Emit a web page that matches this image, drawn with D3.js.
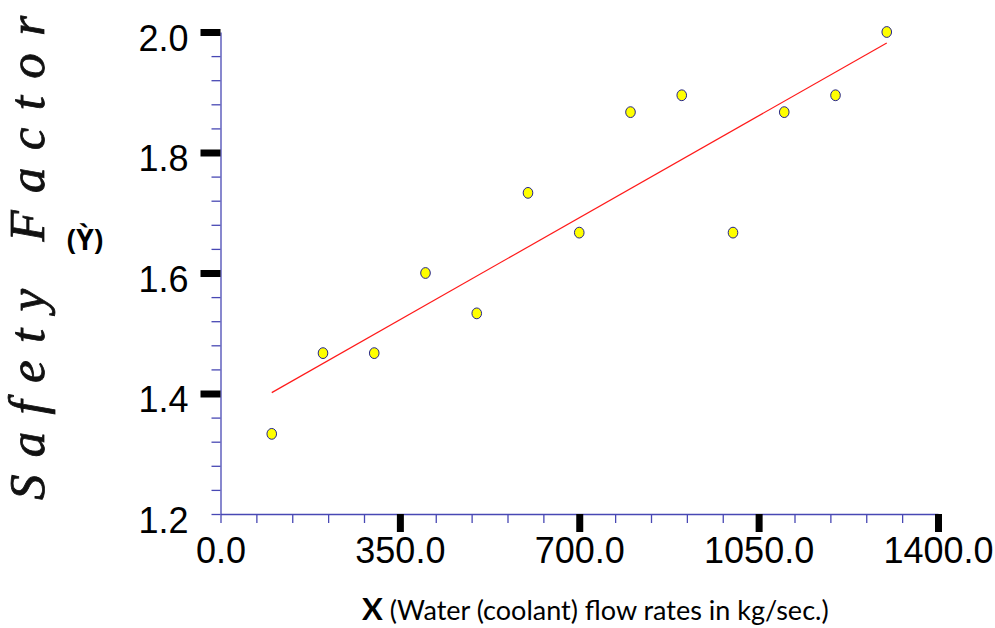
<!DOCTYPE html>
<html>
<head>
<meta charset="utf-8">
<script src="https://cdn.jsdelivr.net/npm/d3@7"></script>
<style>
  body { margin: 0; background: #fff; }
  svg { display: block; }
</style>
</head>
<body>
<div id="chart"></div>
<script>
// flow rate (kg/sec) vs safety factor, with least squares line
const flowRates = [100, 200, 300, 400, 500, 600, 700, 800, 900, 1000, 1100, 1200, 1300];
const safetyFactors = [1.333, 1.467, 1.467, 1.6, 1.533, 1.733, 1.667, 1.867, 1.895, 1.667, 1.867, 1.895, 2.0];
const xMajorTicks = [0, 350, 700, 1050, 1400];
const yMajorTicks = [1.2, 1.4, 1.6, 1.8, 2.0];

const width = 995;
const height = 628;
const axisBlue = "#4848b4";

const svg = d3.select("#chart").append("svg")
  .attr("width", width)
  .attr("height", height);

const x = d3.scaleLinear().domain([0, 1400]).range([220.5, 938]);
const y = d3.scaleLinear().domain([1.2, 2.0]).range([514, 32]);

// minor ticks + axis lines (blue)
const xMinor = d3.range(0, 1401, 70).filter(v => !xMajorTicks.slice(1).includes(v));
const yMinor = d3.range(0, 21).map(i => +(1.2 + i * 0.04).toFixed(2))
  .filter(v => !yMajorTicks.slice(1).includes(v));

const gxMinor = svg.append("g")
  .attr("transform", "translate(0,514)")
  .call(d3.axisBottom(x).tickValues(xMinor).tickSize(9).tickSizeOuter(0).tickFormat(""));
gxMinor.selectAll("path, line").attr("stroke", axisBlue).attr("stroke-width", 1.3);

const gyMinor = svg.append("g")
  .attr("transform", "translate(220.5,0)")
  .call(d3.axisLeft(y).tickValues(yMinor).tickSize(9).tickSizeOuter(0).tickFormat(""));
gyMinor.selectAll("path, line").attr("stroke", axisBlue).attr("stroke-width", 1.3);

// thick black major ticks
const gxMajor = svg.append("g")
  .attr("transform", "translate(0,514)")
  .call(d3.axisBottom(x).tickValues(xMajorTicks.slice(1)).tickSize(18).tickFormat(""));
gxMajor.select(".domain").remove();
gxMajor.selectAll("line").attr("stroke", "#000").attr("stroke-width", 7);

const gyMajor = svg.append("g")
  .attr("transform", "translate(220.5,0)")
  .call(d3.axisLeft(y).tickValues(yMajorTicks.slice(1)).tickSize(20).tickFormat(""));
gyMajor.select(".domain").remove();
gyMajor.selectAll("line").attr("stroke", "#000").attr("stroke-width", 7);

// tick labels
const gxLab = svg.append("g")
  .attr("transform", "translate(0,514)")
  .call(d3.axisBottom(x).tickValues(xMajorTicks).tickSize(0).tickPadding(23).tickFormat(d3.format(".1f")));
gxLab.select(".domain").remove();
gxLab.selectAll("text")
  .attr("fill", "#000")
  .style("font-family", "'Liberation Sans', Arial, sans-serif")
  .style("font-size", "36px");

const gyLab = svg.append("g")
  .attr("transform", "translate(220.5,0)")
  .call(d3.axisLeft(y).tickValues(yMajorTicks).tickSize(0).tickPadding(32).tickFormat(d3.format(".1f")));
gyLab.select(".domain").remove();
gyLab.selectAll("text")
  .attr("fill", "#000")
  .attr("dy", "0.5em")
  .style("font-family", "'Liberation Sans', Arial, sans-serif")
  .style("font-size", "36px");

// regression line
const mx = d3.mean(flowRates);
const my = d3.mean(safetyFactors);
const slope = d3.sum(flowRates, (v, i) => (v - mx) * (safetyFactors[i] - my)) /
  d3.sum(flowRates, v => (v - mx) * (v - mx));
const icpt = my - slope * mx;
const xFit = d3.extent(flowRates);

svg.append("line")
  .attr("x1", x(xFit[0])).attr("y1", y(icpt + slope * xFit[0]))
  .attr("x2", x(xFit[1])).attr("y2", y(icpt + slope * xFit[1]))
  .attr("stroke", "#ff1a1a")
  .attr("stroke-width", 1.2);

// points
svg.selectAll("ellipse.pt")
  .data(flowRates.map((v, i) => ({ fx: v, sf: safetyFactors[i] })))
  .join("ellipse")
  .attr("class", "pt")
  .attr("cx", d => x(d.fx))
  .attr("cy", d => y(d.sf))
  .attr("rx", 4.8)
  .attr("ry", 5.4)
  .attr("fill", "#ffff00")
  .attr("stroke", "#23238c")
  .attr("stroke-width", 1);

// axis titles
svg.append("text")
  .attr("transform", "translate(44,500) rotate(-90)")
  .attr("textLength", 484)
  .attr("lengthAdjust", "spacing")
  .style("font-family", "'Liberation Serif', 'Times New Roman', serif")
  .style("font-style", "italic")
  .style("font-size", "51px")
  .attr("fill", "#111")
  .attr("stroke", "#111")
  .attr("stroke-width", 0.8)
  .text("Safety Factor");

svg.append("text")
  .attr("x", 85)
  .attr("y", 250)
  .attr("text-anchor", "middle")
  .style("font-family", "'Open Sans', sans-serif")
  .style("font-weight", "700")
  .style("font-size", "28px")
  .text("(Ỳ)");

const xt = svg.append("text")
  .attr("x", 362)
  .attr("y", 620)
  .style("font-family", "Lato, 'Open Sans', sans-serif")
  .attr("fill", "#000");
xt.append("tspan")
  .style("font-weight", "700")
  .style("font-size", "31px")
  .text("X");
xt.append("tspan")
  .attr("dx", 7)
  .style("font-size", "27px")
  .text("(Water (coolant) flow rates in kg/sec.)");
</script>
</body>
</html>
